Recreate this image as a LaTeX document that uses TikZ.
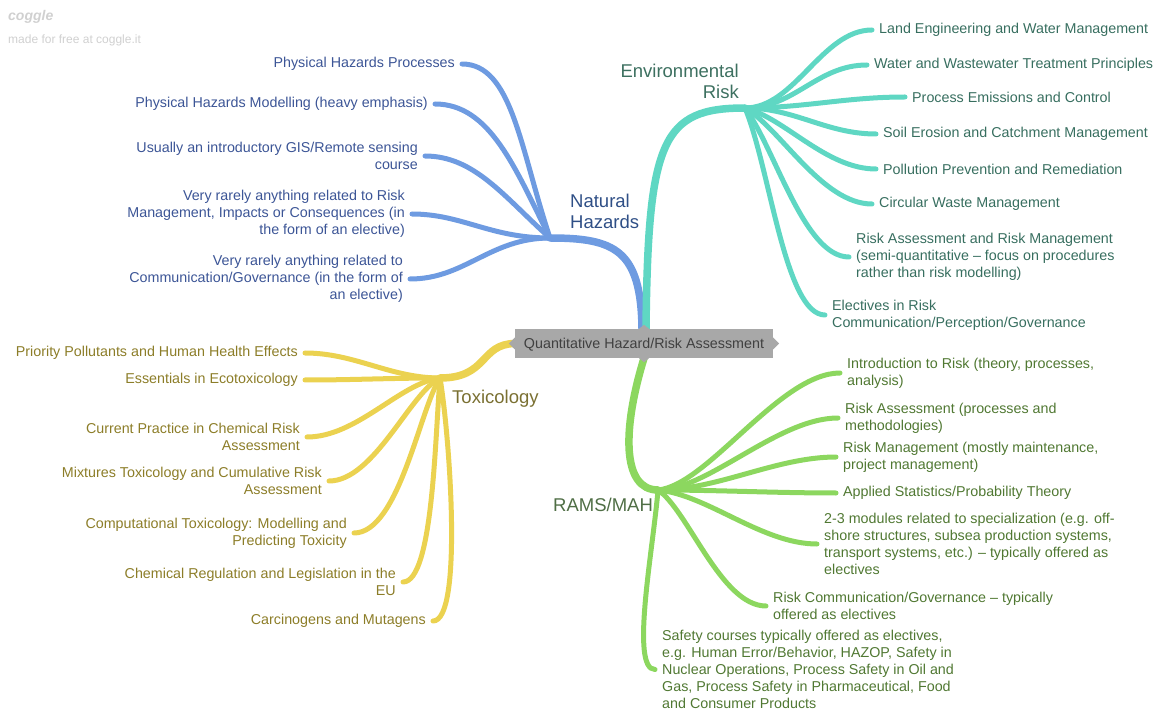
\documentclass[tikz,border=0pt]{standalone}
\usepackage{fontspec}
\setmainfont{Liberation Sans}
\usetikzlibrary{backgrounds,calc}
\definecolor{nhline}{HTML}{6E9BE1}
\definecolor{nhtxt}{HTML}{3C5596}
\definecolor{nhlab}{HTML}{2F4F86}
\definecolor{erline}{HTML}{5FD7C3}
\definecolor{ertxt}{HTML}{376E5F}
\definecolor{erlab}{HTML}{3D7060}
\definecolor{txline}{HTML}{EBD250}
\definecolor{txtxt}{HTML}{8C7D28}
\definecolor{txlab}{HTML}{7A7032}
\definecolor{rmline}{HTML}{8CD75F}
\definecolor{rmtxt}{HTML}{507832}
\definecolor{rmlab}{HTML}{4F6E45}
\definecolor{cfill}{HTML}{A8A8A8}
\definecolor{ctxt}{HTML}{404040}
\definecolor{wm}{HTML}{D0D0D0}
\tikzset{
  leaf/.style={font=\fontsize{14.3}{17}\selectfont, inner xsep=7pt, inner ysep=0pt, yshift=-2pt},
  leafL/.style={leaf, anchor=east, align=right},
  leafR/.style={leaf, anchor=west, align=left},
  catlabel/.style={font=\fontsize{18.5}{21}\selectfont, inner sep=0pt},
  br/.style={line width=5pt, line cap=round},
  mainbr/.style={line width=7.5pt, line cap=round},
  centerbox/.style={fill=cfill, text=ctxt, font=\fontsize{14.3}{17}\selectfont,
    minimum width=258pt, minimum height=29pt, inner sep=0pt, text depth=1pt},
}
\begin{document}
\begin{tikzpicture}[x=1pt,y=-1pt]
\useasboundingbox (0,0) rectangle (1160,711);
% watermark
\node[anchor=west, inner sep=0pt, text=wm, font=\bfseries\itshape\fontsize{14}{14}\selectfont] (cg) at (8,17) {coggle};
\node[anchor=west, inner sep=0pt, text=wm, font=\fontsize{12}{12}\selectfont] (cgm) at (8,40) {made for free at coggle.it};

% centre
\node[centerbox] (qhra) at (644,343.5) {Quantitative Hazard/Risk Assessment};
\fill[cfill] ($(qhra.west)+(0,-6)$) -- ($(qhra.west)+(-6,0)$) -- ($(qhra.west)+(0,6)$) -- cycle;
\fill[cfill] ($(qhra.east)+(0,-6)$) -- ($(qhra.east)+(6,0)$) -- ($(qhra.east)+(0,6)$) -- cycle;
\fill[cfill] ($(qhra.north)+(-5,0)$) -- ($(qhra.north)+(0,-4)$) -- ($(qhra.north)+(5,0)$) -- cycle;
\fill[cfill] ($(qhra.south)+(-5,0)$) -- ($(qhra.south)+(0,4)$) -- ($(qhra.south)+(5,0)$) -- cycle;

% hubs
\coordinate (nhhub) at (550,238);
\coordinate (erhub) at (745,108);
\coordinate (txhub) at (440,378);
\coordinate (rmhub) at (658,490);

% category labels
\node[catlabel, text=nhlab, anchor=west, align=left] (nhl) at (570,211) {Natural\\Hazards};
\node[catlabel, text=erlab, anchor=east, align=right] (erl) at (739,81) {Environmental\\Risk};
\node[catlabel, text=txlab, anchor=west] (txl) at (452,398.5) {Toxicology};
\node[catlabel, text=rmlab, anchor=west] (rml) at (553,505) {RAMS/MAH};

% Natural hazards leaves
\begin{scope}[every node/.style={text=nhtxt}]
\node[leafL] (nh1) at (462,62) {Physical Hazards Processes};
\node[leafL] (nh2) at (435,102) {Physical Hazards Modelling (heavy emphasis)};
\node[leafL] (nh3) at (425,154) {Usually an introductory GIS/Remote sensing\\course};
\node[leafL] (nh4) at (412,212) {Very rarely anything related to Risk\\Management, Impacts or Consequences (in\\the form of an elective)};
\node[leafL] (nh5) at (410,277) {Very rarely anything related to\\Communication/Governance (in the form of\\an elective)};
\end{scope}

% Environmental risk leaves
\begin{scope}[every node/.style={text=ertxt}]
\node[leafR] (er1) at (872,28) {Land Engineering and Water Management};
\node[leafR] (er2) at (867,63) {Water and Wastewater Treatment Principles};
\node[leafR] (er3) at (905,95) {Process Emissions and Control};
\node[leafR] (er4) at (876,132) {Soil Erosion and Catchment Management};
\node[leafR] (er5) at (876,167) {Pollution Prevention and Remediation};
\node[leafR] (er6) at (872,202) {Circular Waste Management};
\node[leafR] (er7) at (849,255) {Risk Assessment and Risk Management\\(semi-quantitative – focus on procedures\\rather than risk modelling)};
\node[leafR] (er8) at (825,313) {Electives in Risk\\Communication/Perception/Governance};
\end{scope}

% Toxicology leaves
\begin{scope}[every node/.style={text=txtxt}]
\node[leafL] (tx1) at (305,351) {Priority Pollutants and Human Health Effects};
\node[leafL] (tx2) at (305,378) {Essentials in Ecotoxicology};
\node[leafL] (tx3) at (307,435) {Current Practice in Chemical Risk\\Assessment};
\node[leafL] (tx4) at (329,479) {Mixtures Toxicology and Cumulative Risk\\Assessment};
\node[leafL] (tx5) at (354,531) {Computational Toxicology: Modelling and\\Predicting Toxicity};
\node[leafL] (tx6) at (403,580) {Chemical Regulation and Legislation in the\\EU};
\node[leafL] (tx7) at (433,619) {Carcinogens and Mutagens};
\end{scope}

% RAMS leaves
\begin{scope}[every node/.style={text=rmtxt}]
\node[leafR] (rm1) at (840,371) {Introduction to Risk (theory, processes,\\analysis)};
\node[leafR] (rm2) at (838,416) {Risk Assessment (processes and\\methodologies)};
\node[leafR] (rm3) at (836,455) {Risk Management (mostly maintenance,\\project management)};
\node[leafR] (rm4) at (836,491) {Applied Statistics/Probability Theory};
\node[leafR] (rm5) at (817,542) {2-3 modules related to specialization (e.g. off-\\shore structures, subsea production systems,\\transport systems, etc.) – typically offered as\\electives};
\node[leafR] (rm6) at (766,604) {Risk Communication/Governance – typically\\offered as electives};
\node[leafR] (rm7) at (655,667.5) {Safety courses typically offered as electives,\\e.g. Human Error/Behavior, HAZOP, Safety in\\Nuclear Operations, Process Safety in Oil and\\Gas, Process Safety in Pharmaceutical, Food\\and Consumer Products};
\end{scope}

\begin{pgfonlayer}{background}
% main branches
\draw[mainbr, nhline] ([xshift=-2pt]qhra.north) .. controls (641,250) and (615,238) .. (nhhub);
\draw[mainbr, erline] ([xshift=2pt]qhra.north) .. controls (648,140) and (662,108) .. (erhub);
\draw[mainbr, txline] (qhra.west) .. controls (480,344) and (488,378) .. (txhub);
\draw[mainbr, rmline] (qhra.south) .. controls (622,430) and (622,490) .. (rmhub);

% natural hazards
\draw[br, nhline] (nhhub) .. controls +(-30,-90) and +(50,0) .. (nh1.east);
\draw[br, nhline] (nhhub) .. controls +(-35,-70) and +(55,0) .. (nh2.east);
\draw[br, nhline] (nhhub) .. controls +(-45,-40) and +(50,0) .. (nh3.east);
\draw[br, nhline] (nhhub) .. controls +(-60,0) and +(50,0) .. (nh4.east);
\draw[br, nhline] (nhhub) .. controls +(-60,0) and +(55,0) .. (nh5.east);

% environmental risk
\draw[br, erline] (erhub) .. controls +(50,0) and +(-50,0) .. (er1.west);
\draw[br, erline] (erhub) .. controls +(50,0) and +(-50,0) .. (er2.west);
\draw[br, erline] (erhub) .. controls +(60,0) and +(-60,0) .. (er3.west);
\draw[br, erline] (erhub) .. controls +(50,0) and +(-50,0) .. (er4.west);
\draw[br, erline] (erhub) .. controls +(40,10) and +(-50,0) .. (er5.west);
\draw[br, erline] (erhub) .. controls +(35,20) and +(-50,0) .. (er6.west);
\draw[br, erline] (erhub) .. controls +(30,40) and +(-45,0) .. (er7.west);
\draw[br, erline] (erhub) .. controls +(25,60) and +(-40,0) .. (er8.west);

% toxicology
\draw[br, txline] (txhub) .. controls +(-50,0) and +(50,0) .. (tx1.east);
\draw[br, txline] (txhub) .. controls +(-50,0) and +(50,0) .. (tx2.east);
\draw[br, txline] (txhub) .. controls +(-40,5) and +(50,0) .. (tx3.east);
\draw[br, txline] (txhub) .. controls +(-30,15) and +(45,0) .. (tx4.east);
\draw[br, txline] (txhub) .. controls +(-20,30) and +(45,0) .. (tx5.east);
\draw[br, txline] (txhub) .. controls +(-5,60) and +(30,0) .. (tx6.east);
\draw[br, txline] (txhub) .. controls +(10,60) and +(30,0) .. (tx7.east);

% RAMS/MAH
\draw[br, rmline] (rmhub) .. controls +(50,-5) and +(-60,0) .. (rm1.west);
\draw[br, rmline] (rmhub) .. controls +(50,0) and +(-60,0) .. (rm2.west);
\draw[br, rmline] (rmhub) .. controls +(60,0) and +(-60,0) .. (rm3.west);
\draw[br, rmline] (rmhub) .. controls +(60,0) and +(-60,0) .. (rm4.west);
\draw[br, rmline] (rmhub) .. controls +(50,5) and +(-55,0) .. (rm5.west);
\draw[br, rmline] (rmhub) .. controls +(30,20) and +(-45,0) .. (rm6.west);
\draw[br, rmline] (rmhub) .. controls +(-5,60) and +(-25,0) .. (rm7.west);
\end{pgfonlayer}
\end{tikzpicture}
\end{document}
